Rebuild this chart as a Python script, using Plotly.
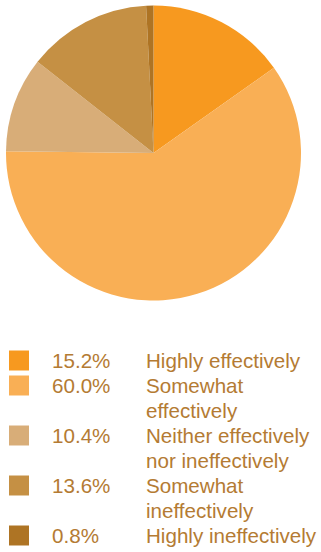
import plotly.graph_objects as go

# Survey responses: how effectively the work is done
labels = ["Highly effectively", "Somewhat<br>effectively",
          "Neither effectively<br>nor ineffectively", "Somewhat<br>ineffectively",
          "Highly ineffectively"]
values = [15.2, 60.0, 10.4, 13.6, 0.8]
colors = ["#F7991F", "#F9AF55", "#D8AD78", "#C59044", "#AE7424"]

W, H = 321, 552
TEXT_COLOR = "#B47B33"
FONT = "Liberation Sans, Arial, sans-serif"
FONT_SIZE = 20.6


def px(x):
    return x / W


def py(y):
    return 1 - y / H


fig = go.Figure(go.Pie(
    values=values,
    labels=[l.replace("<br>", " ") for l in labels],
    marker=dict(colors=colors, line=dict(width=0)),
    sort=False,
    direction="clockwise",
    rotation=0,
    textinfo="none",
    hoverinfo="label+percent",
    showlegend=False,
    domain=dict(x=[px(6), px(301)], y=[py(300.5), py(5.5)]),
))

# Custom legend: colour swatch, percentage and (possibly wrapped) label
annotations = []
shapes = []
line_h = 25
first_center = 360.5
line_idx = 0
for val, lab, col in zip(values, labels, colors):
    cy = first_center + line_h * line_idx
    shapes.append(dict(type="rect", xref="paper", yref="paper",
                       x0=px(9), x1=px(29), y0=py(cy + 10), y1=py(cy - 10),
                       fillcolor=col, line=dict(width=0)))
    annotations.append(dict(x=px(50), y=py(cy), xref="paper", yref="paper",
                            text=f"{val:.1f}%", showarrow=False,
                            xanchor="left", yanchor="middle",
                            font=dict(size=FONT_SIZE, color=TEXT_COLOR, family=FONT)))
    for part in lab.split("<br>"):
        cy = first_center + line_h * line_idx
        annotations.append(dict(x=px(144), y=py(cy), xref="paper", yref="paper",
                                text=part, showarrow=False,
                                xanchor="left", yanchor="middle",
                                font=dict(size=FONT_SIZE, color=TEXT_COLOR, family=FONT)))
        line_idx += 1

fig.update_layout(
    width=W, height=H,
    margin=dict(l=0, r=0, t=0, b=0),
    paper_bgcolor="white",
    plot_bgcolor="white",
    annotations=annotations,
    shapes=shapes,
)

fig.write_html("out.html")
